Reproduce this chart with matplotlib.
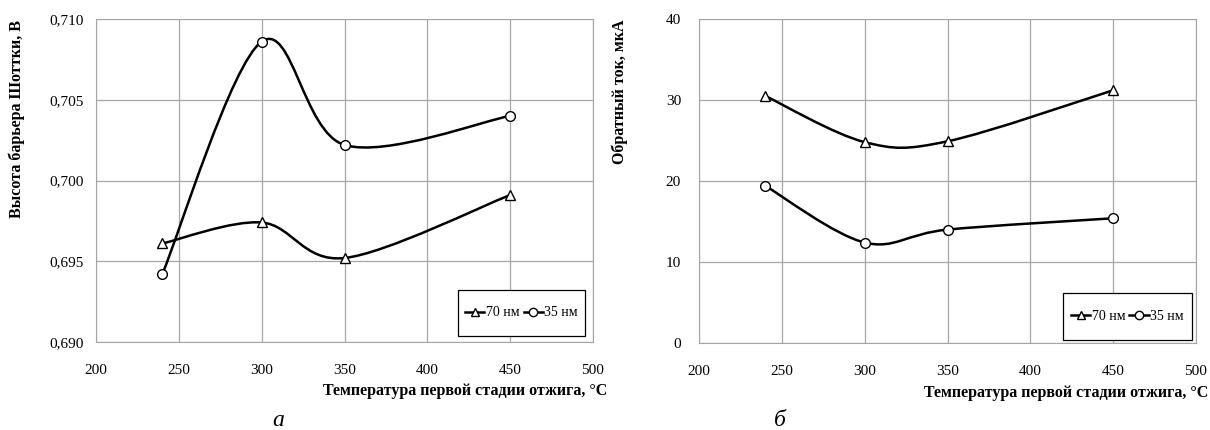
import numpy as np
import matplotlib
matplotlib.use("Agg")
import matplotlib.pyplot as plt
from matplotlib.path import Path
from matplotlib.patches import PathPatch, Rectangle
from matplotlib.lines import Line2D
from matplotlib.ticker import FuncFormatter

plt.rcParams['font.family'] = ['Liberation Serif', 'DejaVu Serif']

temp = [240, 300, 350, 450]
barrier_70 = [0.6961, 0.6974, 0.6952, 0.6991]
barrier_35 = [0.6942, 0.7086, 0.7022, 0.7040]
current_70 = [30.5, 24.8, 24.9, 31.2]
current_35 = [19.4, 12.4, 14.0, 15.4]

xlabel = "Температура первой стадии отжига, °С"
ylabel_a = "Высота барьера Шоттки, В"
ylabel_b = "Обратный ток, мкА"
names = ["70 нм", "35 нм"]


def smooth_path(x, y):
    # excel-like smoothing: catmull-rom converted to cubic bezier
    p = np.column_stack([x, y]).astype(float)
    ext = np.vstack([p[0], p, p[-1]])
    verts = [p[0]]
    codes = [Path.MOVETO]
    for i in range(1, len(ext) - 2):
        c1 = ext[i] + (ext[i + 1] - ext[i - 1]) / 6
        c2 = ext[i + 1] - (ext[i + 2] - ext[i]) / 6
        verts += [c1, c2, ext[i + 1]]
        codes += [Path.CURVE4] * 3
    return Path(verts, codes)


def draw(ax, y70, y35, box):
    for y, m in [(y70, '^'), (y35, 'o')]:
        ax.add_patch(PathPatch(smooth_path(temp, y), fill=False, color='black', lw=1.8, zorder=3))
        ax.plot(temp, y, linestyle='none', marker=m, ms=7, mfc='white', mec='black', mew=1.0, zorder=4)
    for s in ax.spines.values():
        s.set_color('#a6a6a6')
    ax.grid(True, color='#a6a6a6', lw=0.9)
    ax.set_axisbelow(True)
    ax.set_xlim(200, 500)
    ax.set_xticks([200, 250, 300, 350, 400, 450, 500])
    ax.tick_params(length=0, labelsize=11)
    ax.tick_params(axis='x', pad=16)
    ax.tick_params(axis='y', pad=9)
    handles = [Line2D([], [], color='black', lw=1.8, marker='^', ms=6, mfc='white', mec='black'),
               Line2D([], [], color='black', lw=1.8, marker='o', ms=6, mfc='white', mec='black')]
    x0, y0, x1, y1 = box
    ax.add_patch(Rectangle((x0, y0), x1 - x0, y1 - y0, transform=ax.transAxes,
                           facecolor='white', edgecolor='black', lw=0.9, zorder=5))
    leg = ax.legend(handles, names, loc='center', bbox_to_anchor=((x0 + x1) / 2, (y0 + y1) / 2),
                    ncol=2, handlelength=1.4, handletextpad=0.1, columnspacing=0.3,
                    fontsize=10, frameon=False)
    leg.set_zorder(6)


fig = plt.figure(figsize=(12.1, 4.3), dpi=100)
ax1 = fig.add_axes([96 / 1210, 1 - 342 / 430, 497 / 1210, 323 / 430])
ax2 = fig.add_axes([699 / 1210, 1 - 343 / 430, 497 / 1210, 324 / 430])

draw(ax1, barrier_70, barrier_35, (0.728, 0.019, 0.984, 0.161))
ax1.set_ylim(0.690, 0.710)
ax1.set_yticks([0.690, 0.695, 0.700, 0.705, 0.710])
ax1.yaxis.set_major_formatter(FuncFormatter(lambda v, p: f"{v:.3f}".replace('.', ',')))

draw(ax2, current_70, current_35, (0.732, 0.009, 0.992, 0.154))
ax2.set_ylim(0, 40)
ax2.set_yticks([0, 10, 20, 30, 40])
ax2.tick_params(axis='y', pad=13)

fig.text(607 / 1210, 1 - 391 / 430, xlabel, ha='right', va='center', fontsize=11.5, fontweight='bold')
fig.text(1208 / 1210, 1 - 393 / 430, xlabel, ha='right', va='center', fontsize=11.5, fontweight='bold')
fig.text(17 / 1210, 1 - 20 / 430, ylabel_a, rotation=90, ha='center', va='top', fontsize=11.5, fontweight='bold')
fig.text(620 / 1210, 1 - 20 / 430, ylabel_b, rotation=90, ha='center', va='top', fontsize=11.5, fontweight='bold')
fig.text(278 / 1210, 1 - 420 / 430, "а", ha='center', va='center', fontsize=17, style='italic')
fig.text(780 / 1210, 1 - 420 / 430, "б", ha='center', va='center', fontsize=17, style='italic')

fig.savefig("out.png", dpi=100)
